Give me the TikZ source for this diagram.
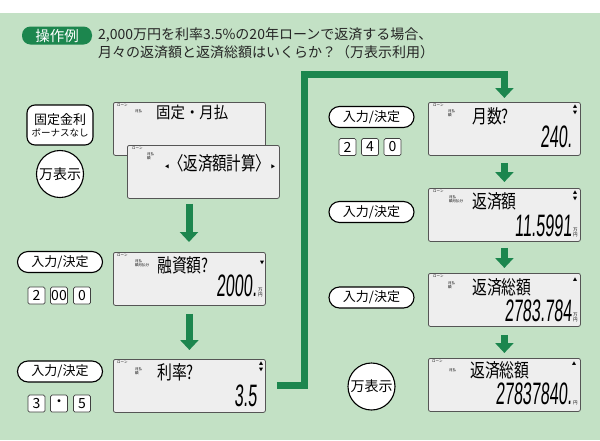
\documentclass[tikz,border=0pt]{standalone}
\usepackage{fontspec}
\setmainfont{Noto Sans CJK JP}
\newfontfamily\seg[FakeSlant=0.12]{Liberation Sans}
\usetikzlibrary{calc,arrows.meta}

\definecolor{bggreen}{RGB}{195,225,197}
\definecolor{flowgreen}{RGB}{28,134,78}
\definecolor{lcdgray}{RGB}{238,238,238}
\definecolor{lcdedge}{RGB}{85,85,85}

\newcommand\lcdtext[2][0.78]{\scalebox{#1}[1]{\fontsize{19}{19}\selectfont #2}}
\newcommand\segnum[1]{\scalebox{0.52}[1]{\seg\fontsize{31}{31}\selectfont #1}}

\tikzset{
  lcd/.style={draw=lcdedge, fill=lcdgray, line width=0.8pt, rounded corners=2pt,
    minimum width=152pt, minimum height=53pt, inner sep=0pt, anchor=north west},
  tag/.style={inner sep=0pt, anchor=north west, font=\fontsize{3.5}{4}\selectfont},
  lcdmain/.style={inner sep=0pt, anchor=west},
  lcdnum/.style={inner sep=0pt, anchor=south east},
  unit/.style={inner sep=0pt, anchor=south west, align=center, font=\fontsize{4.5}{4.8}\selectfont},
  tri/.style={inner sep=0pt, anchor=north, align=center, font=\fontsize{4.5}{6}\selectfont},
  pill/.style={draw, fill=white, line width=1.1pt, rounded corners=10.5pt,
    minimum width=85pt, minimum height=21pt, inner sep=0pt, font=\fontsize{13}{13}\selectfont},
  keycap/.style={draw=black!75, fill=white, line width=0.7pt, rounded corners=1.5pt,
    minimum size=17pt, inner sep=0pt, font=\fontsize{14}{14}\selectfont},
  manbtn/.style={circle, draw, fill=white, line width=1.1pt, minimum size=47pt,
    inner sep=0pt, font=\fontsize{14}{14}\selectfont},
  badge/.style={fill=flowgreen, text=white, rounded corners=8.5pt, minimum width=70pt,
    minimum height=18pt, inner sep=0pt, font=\fontsize{14.5}{14.5}\selectfont},
  flow/.style={draw=flowgreen, line width=7pt, -{Triangle[width=18pt,length=10pt]}}
}

\begin{document}
\begin{tikzpicture}[x=1pt, y=-1pt]
  \fill[white] (0,0) rectangle (600,440);
  \fill[bggreen] (0,13) rectangle (600,440);
  \useasboundingbox (0,0) rectangle (600,440);

  % title
  \node[badge] (badge) at (57,35.5) {操作例};
  \node[anchor=north west, align=left, inner sep=0pt, text=black!85,
    font=\fontsize{14}{18}\selectfont] (task) at (98,27)
    {2,000万円を利率3.5\%の20年ローンで返済する場合、\\月々の返済額と返済総額はいくらか？（万表示利用）};

  % left column: mode settings
  \node[draw, fill=white, line width=1.1pt, rounded corners=8pt, minimum width=66pt,
    minimum height=40pt, inner sep=0pt, align=center] (fixed) at (60,125)
    {{\fontsize{13}{15}\selectfont 固定金利}\\{\fontsize{9.5}{12}\selectfont ボーナスなし}};
  \node[manbtn] (man1) at (60,174) {万表示};

  \node[lcd] (d1) at (113,102) {};
  \node[tag] at ($(d1.north west)+(4,2)$) {ローン};
  \node[tag] at ($(d1.north west)+(22,7)$) {月払};
  \node[lcdmain] at ($(d1.north west)+(43,10)$) {\scalebox{0.9}[1]{\fontsize{16}{16}\selectfont 固定・月払}};

  \node[lcd] (d2) at (127,145) {};
  \node[tag] at ($(d2.north west)+(5,2)$) {ローン};
  \node[tag, align=left] at ($(d2.north west)+(20,7)$) {月払\\額};
  \node[tri] at ($(d2.north west)+(40,19)$) {◀};
  \node[lcdmain] at ($(d2.north west)+(42,18)$) {\lcdtext[0.76]{〈返済額計算〉}};
  \node[tri] at ($(d2.north west)+(146,19)$) {▶};

  \draw[flow, shorten <=5pt, shorten >=10pt] (d2.south -| 189,0) -- (189,252);

  % loan amount
  \node[pill] (in1) at (60,262) {入力/決定};
  \node[keycap] (k2) at (36.5,295.5) {2};
  \node[keycap] (k00) at (59,295.5) {00};
  \node[keycap] (k0) at (82,295.5) {0};

  \node[lcd] (d3) at (113,252) {};
  \node[tag] at ($(d3.north west)+(4,2)$) {ローン};
  \node[tag, align=left] at ($(d3.north west)+(22,7)$) {月払\\額月払分};
  \node[lcdmain] at ($(d3.north west)+(44,13)$) {\lcdtext{融資額?}};
  \node[tri] at ($(d3.north west)+(149,9)$) {▼};
  \node[lcdnum] at ($(d3.north west)+(144,45)$) {\segnum{2000.}};
  \node[unit] at ($(d3.north west)+(145,45)$) {万\\円};

  \draw[flow, shorten <=8pt, shorten >=9pt] (d3.south) -- (d3.south |- 0,359);

  % interest rate
  \node[pill] (in2) at (60,371.5) {入力/決定};
  \node[keycap] (k3) at (36.5,403.5) {3};
  \node[keycap] (kdot) at (59,403.5) {・};
  \node[keycap] (k5) at (82,403.5) {5};

  \node[lcd] (d4) at (113,359) {};
  \node[tag] at ($(d4.north west)+(4,2)$) {ローン};
  \node[tag, align=left] at ($(d4.north west)+(22,8)$) {月払\\額};
  \node[lcdmain] at ($(d4.north west)+(44,13)$) {\lcdtext{利率?}};
  \node[tri] at ($(d4.north west)+(148,3)$) {▲\\▼};
  \node[lcdnum] at ($(d4.north west)+(144,48)$) {\segnum{3.5}};

  % connector to right column
  \coordinate (out) at ($(d4.east)+(11,0)$);
  \coordinate (top) at (304.5,74);
  \node[lcd] (d5) at (428,102) {};
  \draw[flow] (out) -| (top) -| ($(d5.north)+(0,-4)$);

  % number of months
  \node[pill] (in3) at (371.5,117) {入力/決定};
  \node[keycap] (r2) at (347.5,147) {2};
  \node[keycap] (r4) at (370,147) {4};
  \node[keycap] (r0) at (392.5,147) {0};

  \node[tag] at ($(d5.north west)+(5,2)$) {ローン};
  \node[tag, align=left] at ($(d5.north west)+(20,7)$) {月払\\額};
  \node[lcdmain] at ($(d5.north west)+(44,14)$) {\lcdtext{月数?}};
  \node[tri] at ($(d5.north west)+(147,3)$) {▲\\▼};
  \node[lcdnum] at ($(d5.north west)+(144,46)$) {\segnum{240.}};

  % monthly payment
  \node[pill] (in4) at (371.5,212) {入力/決定};
  \node[lcd] (d6) at (428,188) {};
  \node[tag] at ($(d6.north west)+(5,2)$) {ローン};
  \node[tag, align=left] at ($(d6.north west)+(21,7)$) {月払\\額月払分};
  \node[lcdmain] at ($(d6.north west)+(44,13)$) {\lcdtext{返済額}};
  \node[tri] at ($(d6.north west)+(147,3)$) {▲\\▼};
  \node[lcdnum] at ($(d6.north west)+(144,49)$) {\segnum{11.5991}};
  \node[unit] at ($(d6.north west)+(145,49)$) {万\\円};

  \draw[flow, shorten <=7pt, shorten >=6pt] (d5.south) -- (d6.north);

  % total payment
  \node[pill] (in5) at (371.5,297.5) {入力/決定};
  \node[lcd] (d7) at (428,273) {};
  \node[tag] at ($(d7.north west)+(5,2)$) {ローン};
  \node[tag, align=left] at ($(d7.north west)+(20,8)$) {月払\\額};
  \node[lcdmain] at ($(d7.north west)+(44,14)$) {\lcdtext{返済総額}};
  \node[tri] at ($(d7.north west)+(147,5)$) {▲};
  \node[lcdnum] at ($(d7.north west)+(144,49)$) {\segnum{2783.784}};
  \node[unit] at ($(d7.north west)+(145,49)$) {万\\円};

  \draw[flow, shorten <=6pt, shorten >=5pt] (d6.south) -- (d7.north);

  % yen display
  \node[manbtn] (man2) at (371.5,386.5) {万表示};
  \node[lcd] (d8) at (428,358) {};
  \node[tag] at ($(d8.north west)+(4,2)$) {ローン};
  \node[tag] at ($(d8.north west)+(21,10)$) {月払};
  \node[lcdmain] at ($(d8.north west)+(42,12)$) {\lcdtext{返済総額}};
  \node[tri] at ($(d8.north west)+(146,4)$) {▲};
  \node[lcdnum] at ($(d8.north west)+(144,47)$) {\segnum{27837840.}};
  \node[unit] at ($(d8.north west)+(145,47)$) {円};

  \draw[flow, shorten <=8pt, shorten >=5pt] (d7.south) -- (d8.north);
\end{tikzpicture}
\end{document}
